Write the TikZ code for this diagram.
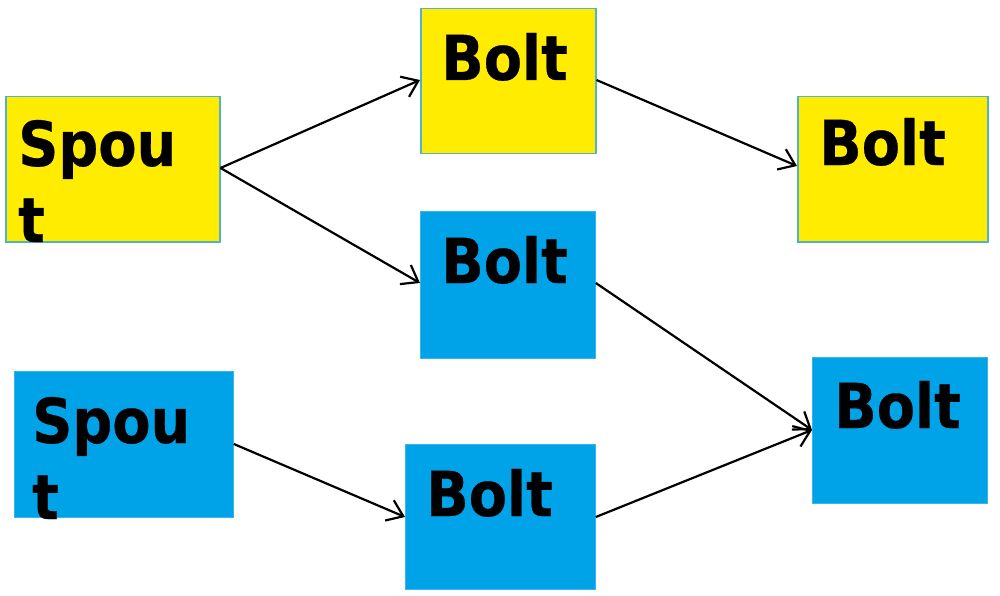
\documentclass[tikz,border=0pt]{standalone}
\usepackage{fontspec}
\setmainfont{DejaVu Sans Condensed}[BoldFeatures={FakeBold=0.4}]
\usetikzlibrary{arrows.meta}
\definecolor{boxyellow}{RGB}{255,236,0}
\definecolor{boxblue}{RGB}{0,162,232}
\definecolor{edgeyellow}{RGB}{80,180,200}
\definecolor{edgeblue}{RGB}{60,180,235}
\tikzset{
  ybox/.style={draw=edgeyellow, line width=1.5pt, fill=boxyellow, anchor=north west, inner sep=0pt},
  bbox/.style={draw=edgeblue, line width=0.8pt, fill=boxblue, anchor=north west, inner sep=0pt},
  lbl/.style={anchor=base west, inner sep=0pt, font=\fontsize{62}{76}\selectfont\bfseries},
  lbl2/.style={lbl, text width=170pt, align=left},
  flow/.style={line width=2.2pt, -{Straight Barb[length=15pt,width=22pt,line width=2.2pt]}},
}
\begin{document}
\begin{tikzpicture}[x=1pt,y=-1pt]
\useasboundingbox (0,0) rectangle (1000,596);
% boxes
\node[ybox, minimum width=214pt, minimum height=145pt] (s1) at (5,96) {};
\node[bbox, minimum width=219pt, minimum height=146pt] (s2) at (14,371) {};
\node[ybox, minimum width=175pt, minimum height=145pt] (b1) at (420,8) {};
\node[bbox, minimum width=175pt, minimum height=147pt] (b2) at (420,211) {};
\node[bbox, minimum width=190pt, minimum height=145pt] (b3) at (405,444) {};
\node[ybox, minimum width=190pt, minimum height=145pt] (b4) at (797,96) {};
\node[bbox, minimum width=175pt, minimum height=146pt] (b5) at (812,357) {};
% labels
\node[lbl2] (ts1) at (18,166) {Spou\\t};
\node[lbl2] (ts2) at (32,443) {Spou\\t};
\node[lbl] (tb1) at (441,80) {Bolt};
\node[lbl] (tb2) at (441,283) {Bolt};
\node[lbl] (tb3) at (426,516) {Bolt};
\node[lbl] (tb4) at (819,165) {Bolt};
\node[lbl] (tb5) at (834,428) {Bolt};
% connectors
\draw[flow] ([yshift=-72pt]s1.north east) -- ([yshift=-72pt]b1.north west);
\draw[flow] ([yshift=-72pt]s1.north east) -- ([yshift=-72pt]b2.north west);
\draw[flow] ([yshift=-72pt]b1.north east) -- ([yshift=-70pt]b4.north west);
\draw[flow] ([yshift=-72pt]b2.north east) -- ([yshift=-73pt]b5.north west);
\draw[flow] ([yshift=-73pt]s2.north east) -- ([yshift=-73pt]b3.north west);
\draw[flow] ([yshift=-73pt]b3.north east) -- ([yshift=-73pt]b5.north west);
\end{tikzpicture}
\end{document}
